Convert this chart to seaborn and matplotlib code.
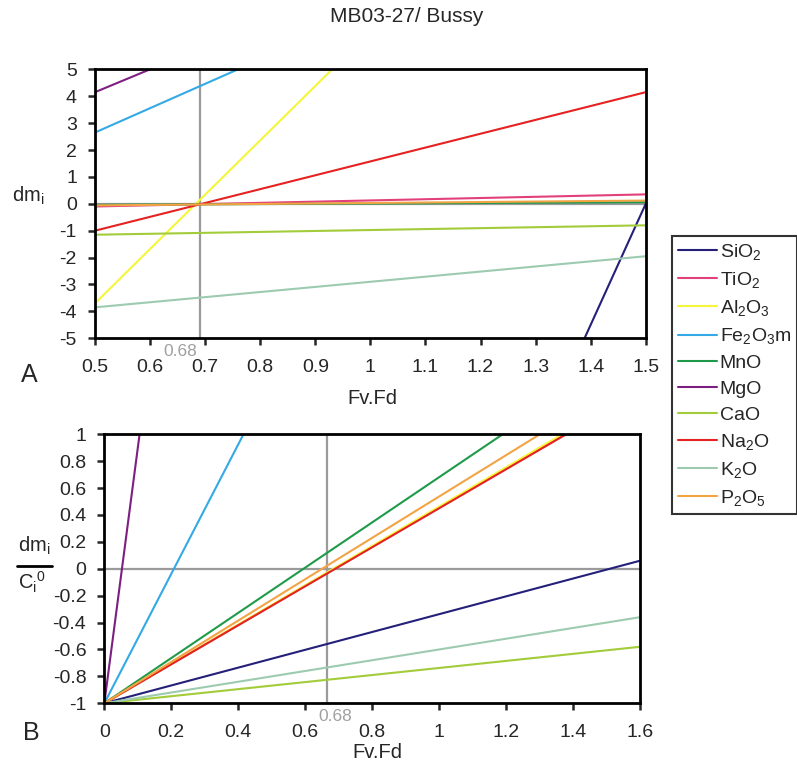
import pandas as pd
import matplotlib.pyplot as plt
import seaborn as sns

# oxides and colours
oxides = ["SiO2", "TiO2", "Al2O3", "Fe2O3m", "MnO", "MgO", "CaO", "Na2O", "K2O", "P2O5"]
labels = [r"SiO$_2$", r"TiO$_2$", r"Al$_2$O$_3$", r"Fe$_2$O$_3$m", "MnO", "MgO", "CaO",
          r"Na$_2$O", r"K$_2$O", r"P$_2$O$_5$"]
colores = ["#24207a", "#e2407a", "#f5f53a", "#33a9e6", "#1f9a4a", "#7d1f80", "#a3cc3a",
           "#e52222", "#9ccbb0", "#f2a445"]

# panel A: dm_i at Fv.Fd = 0.5 and 1.5 (lines are straight)
x_a = [0.5, 1.5]
dm_05 = [-45.0, -0.10, -3.7, 2.65, -0.04, 4.15, -1.15, -1.0, -3.85, -0.06]
dm_15 = [0.0, 0.35, 16.5, 11.7, 0.06, 12.65, -0.80, 4.15, -1.95, 0.12]

# panel B: dm_i / C_i0 at Fv.Fd = 0 and 1.6
x_b = [0.0, 1.6]
rel_0 = [-1, -1, -1, -1, -1, -1, -1, -1, -1, -1]
rel_16 = [0.06, 1.33, 1.34, 6.7, 1.69, 29.4, -0.58, 1.32, -0.36, 1.46]

# Fv.Fd lines
fv_a = 0.69
fv_b = 0.665

filas_a = []
filas_b = []
for i, ox in enumerate(oxides):
    filas_a.append({"ox": ox, "x": x_a[0], "y": dm_05[i]})
    filas_a.append({"ox": ox, "x": x_a[1], "y": dm_15[i]})
    filas_b.append({"ox": ox, "x": x_b[0], "y": rel_0[i]})
    filas_b.append({"ox": ox, "x": x_b[1], "y": rel_16[i]})
df_a = pd.DataFrame(filas_a)
df_b = pd.DataFrame(filas_b)
paleta = dict(zip(oxides, colores))

sns.set_style("ticks")
plt.rcParams["font.family"] = ["Liberation Sans", "DejaVu Sans"]
plt.rcParams["mathtext.default"] = "regular"
plt.rcParams["axes.unicode_minus"] = False

fig = plt.figure(figsize=(7.97, 7.65), dpi=100)
ax1 = fig.add_axes([0.1192, 0.5578, 0.691, 0.3516])
ax2 = fig.add_axes([0.1309, 0.0807, 0.6722, 0.3516])

sns.lineplot(data=df_a, x="x", y="y", hue="ox", palette=paleta, ax=ax1, lw=1.5, legend=False)
sns.lineplot(data=df_b, x="x", y="y", hue="ox", palette=paleta, ax=ax2, lw=1.5, legend=False)

ax1.axhline(0, color="#9a9a9a", lw=1.6, zorder=1)
ax1.axvline(fv_a, color="#9a9a9a", lw=1.6, zorder=1)
ax2.axhline(0, color="#9a9a9a", lw=1.6, zorder=1)
ax2.axvline(fv_b, color="#9a9a9a", lw=1.6, zorder=1)

ax1.set_xlim(0.5, 1.5)
ax1.set_ylim(-5, 5)
ax1.set_xticks([0.5, 0.6, 0.7, 0.8, 0.9, 1.0, 1.1, 1.2, 1.3, 1.4, 1.5])
ax1.set_xticklabels(["0.5", "0.6", "0.7", "0.8", "0.9", "1", "1.1", "1.2", "1.3", "1.4", "1.5"])
ax1.set_yticks(range(-5, 6))

ax2.set_xlim(0, 1.6)
ax2.set_ylim(-1, 1)
ax2.set_xticks([0, 0.2, 0.4, 0.6, 0.8, 1.0, 1.2, 1.4, 1.6])
ax2.set_xticklabels(["0", "0.2", "0.4", "0.6", "0.8", "1", "1.2", "1.4", "1.6"])
ax2.set_yticks([-1, -0.8, -0.6, -0.4, -0.2, 0, 0.2, 0.4, 0.6, 0.8, 1])
ax2.set_yticklabels(["-1", "-0.8", "-0.6", "-0.4", "-0.2", "0", "0.2", "0.4", "0.6", "0.8", "1"])

for ax in [ax1, ax2]:
    ax.set_xlabel("Fv.Fd", fontsize=14.5, va="center")
    ax.set_ylabel("")
    for s in ax.spines.values():
        s.set_visible(True)
        s.set_linewidth(2)
        s.set_color("black")
    ax.tick_params(direction="out", length=5, width=1.8, labelsize=14)
    ax.tick_params(axis="x", pad=10)
    ax.tick_params(axis="y", pad=8)

ax1.xaxis.set_label_coords(0.503, -0.223)
ax2.xaxis.set_label_coords(0.51, -0.182)

ax1.text(0.6546, -5.48, "0.68", color="#a0a0a0", fontsize=12.5, ha="center", va="center")
ax2.text(0.690, -1.097, "0.68", color="#a0a0a0", fontsize=12.5, ha="center", va="center")

# y labels
fig.text(28 / 797, 1 - 196 / 765, "dm$_i$", fontsize=14.5, ha="center", va="center")
fig.text(34 / 797, 1 - 546 / 765, "dm$_i$", fontsize=14.5, ha="center", va="center")
fig.add_artist(plt.Line2D([17 / 797, 52 / 797], [1 - 566 / 765, 1 - 566 / 765], color="black", lw=2))
fig.text(32 / 797, 1 - 582 / 765, "C$_i$$^0$", fontsize=14.5, ha="center", va="center")

fig.text(29 / 797, 1 - 375 / 765, "A", fontsize=18, ha="center", va="center")
fig.text(31 / 797, 1 - 733 / 765, "B", fontsize=18, ha="center", va="center")
fig.text(407 / 797, 1 - 17 / 765, "MB03-27/ Bussy", fontsize=15, ha="center", va="center")

handles = [plt.Line2D([], [], color=c, lw=1.5) for c in colores]
leg = fig.legend(handles, labels, loc="upper left", bbox_to_anchor=(672 / 797, 1 - 236 / 765),
                 fontsize=14, frameon=True, fancybox=False, handlelength=2.0,
                 handletextpad=0.15, labelspacing=0.42, borderpad=0.3, borderaxespad=0)
leg.get_frame().set_edgecolor("black")
leg.get_frame().set_linewidth(1.5)

fig.savefig("out.png", dpi=100)
